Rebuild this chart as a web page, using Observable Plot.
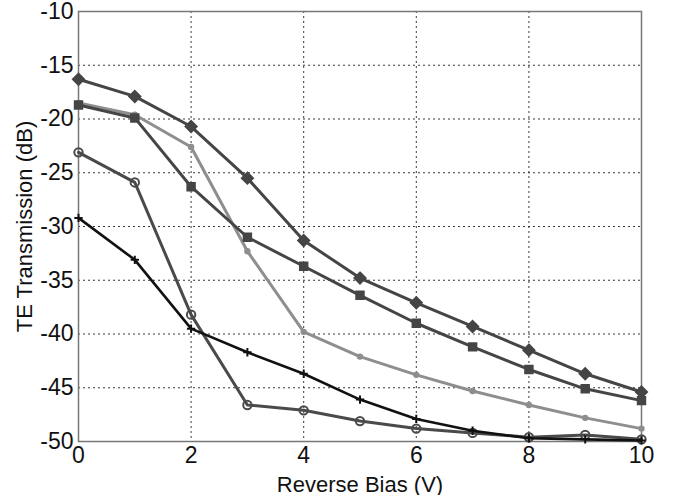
<!DOCTYPE html>
<html>
<head>
<meta charset="utf-8">
<script src="https://cdn.jsdelivr.net/npm/d3@7"></script>
<script src="https://cdn.jsdelivr.net/npm/@observablehq/plot@0.6"></script>
<style>
  html, body { margin: 0; padding: 0; background: #fff; }
  #chart { width: 674px; height: 495px; }
  #chart svg { font-family: "Liberation Sans", Arial, sans-serif; overflow: visible; }
</style>
</head>
<body>
<div id="chart"></div>
<script>
const bias = [0, 1, 2, 3, 4, 5, 6, 7, 8, 9, 10];
const diamondSeries = [-16.3, -17.9, -20.7, -25.5, -31.3, -34.8, -37.1, -39.3, -41.5, -43.7, -45.4];
const squareSeries  = [-18.7, -19.9, -26.3, -31.0, -33.7, -36.4, -39.0, -41.2, -43.3, -45.1, -46.2];
const lightSeries   = [-18.5, -19.6, -22.6, -32.3, -39.8, -42.1, -43.8, -45.3, -46.6, -47.8, -48.8];
const circleSeries  = [-23.1, -25.9, -38.2, -46.6, -47.1, -48.1, -48.8, -49.2, -49.6, -49.4, -49.8];
const plusSeries    = [-29.2, -33.1, -39.5, -41.7, -43.7, -46.1, -47.9, -49.0, -49.7, -49.8, -49.9];
const xTicks = [0, 2, 4, 6, 8, 10];
const yTicks = [-50, -45, -40, -35, -30, -25, -20, -15, -10];

const seriesDefs = [
  {name: "circle", values: circleSeries, color: "#4a4a4a", symbol: "circle", fill: "none", r: 4.2, sw: 3},
  {name: "plus", values: plusSeries, color: "#111111", symbol: "plus", fill: "none", r: 2.8, sw: 2.6},
  {name: "light", values: lightSeries, color: "#8e8e8e", symbol: "circle", fill: "#8e8e8e", r: 2.2, sw: 3},
  {name: "square", values: squareSeries, color: "#454545", symbol: "square", fill: "#454545", r: 4.2, sw: 3},
  {name: "diamond", values: diamondSeries, color: "#454545", symbol: "diamond2", fill: "#454545", r: 5, sw: 3}
];

const fmt = d => String(d);

const marks = [
  Plot.gridX(xTicks.filter(d => d > 0 && d < 10), {stroke: "#222", strokeOpacity: 0.9, strokeDasharray: "2,3", strokeWidth: 1}),
  Plot.gridY(yTicks.filter(d => d > -50 && d < -10), {stroke: "#222", strokeOpacity: 0.9, strokeDasharray: "2,3", strokeWidth: 1}),
  Plot.frame({stroke: "#777", strokeWidth: 1.5}),
  Plot.axisX({ticks: xTicks, tickFormat: fmt, tickSize: 0, tickPadding: 5, fontSize: 23, label: null}),
  Plot.axisY({ticks: yTicks, tickFormat: fmt, tickSize: 0, tickPadding: 5, fontSize: 23, label: null}),
  Plot.axisX({ticks: [], tickSize: 0, fontSize: 22, label: "Reverse Bias (V)", labelAnchor: "center", labelArrow: "none", labelOffset: 50}),
  Plot.axisY({ticks: [], tickSize: 0, fontSize: 22, label: "TE Transmission (dB)", labelAnchor: "center", labelArrow: "none", labelOffset: 62})
];

for (const s of seriesDefs) {
  const data = bias.map((b, i) => ({x: b, y: s.values[i]}));
  marks.push(Plot.line(data, {x: "x", y: "y", stroke: s.color, strokeWidth: s.sw}));
  marks.push(Plot.dot(data, {x: "x", y: "y", symbol: s.symbol, r: s.r, stroke: s.color, fill: s.fill, strokeWidth: 2}));
}

const chart = Plot.plot({
  width: 674,
  height: 495,
  marginLeft: 78,
  marginRight: 33,
  marginTop: 11,
  marginBottom: 54,
  style: {fontFamily: "'Liberation Sans', Arial, sans-serif", fontSize: "22px", color: "#111", background: "#fff", overflow: "visible"},
  x: {domain: [0, 10]},
  y: {domain: [-50, -10]},
  marks
});
document.getElementById("chart").appendChild(chart);
</script>
</body>
</html>
